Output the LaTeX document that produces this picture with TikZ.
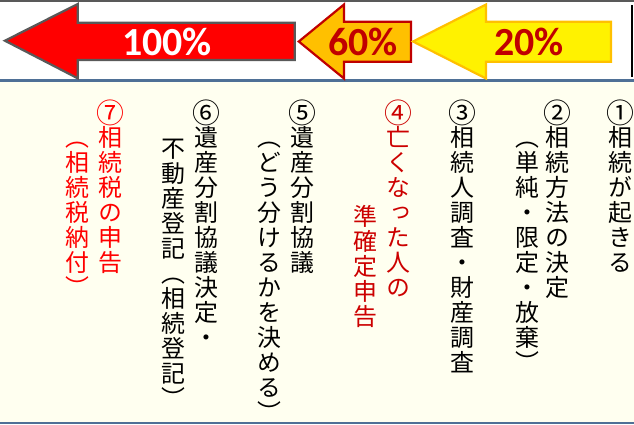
\documentclass[tikz,border=0pt]{standalone}
\usepackage{fontspec}
\newfontfamily\jp[RawFeature=+vert]{Noto Sans CJK JP}
\newfontfamily\lat{Carlito}
\definecolor{cream}{HTML}{FFFFF0}
\definecolor{topgray}{HTML}{595959}
\definecolor{rule}{HTML}{4F7096}
\definecolor{darkred}{HTML}{C00000}
\definecolor{amber}{HTML}{FFC000}
\definecolor{redA}{HTML}{CC0000}
\definecolor{redB}{HTML}{FF0000}
\newcount\vcidx
\newcommand\vcol[5]{%
  \vcidx=0
  \def\vcname{#1}\def\vcx{#2}\def\vcy{#3}\def\vccol{#4}%
  \vcloop#5\relax}
\def\vcloop#1{%
  \ifx#1\relax\else
    \node[ch,text=\vccol] (\vcname-\the\vcidx) at ({\vcx},{\vcy+25*\the\vcidx}) {#1};%
    \advance\vcidx by 1
    \expandafter\vcloop
  \fi}
\begin{document}
\begin{tikzpicture}[x=1bp,y=-1bp,
  ch/.style={font=\jp\fontsize{24}{24}\selectfont, inner sep=0pt, outer sep=0pt,
    text height=21.12bp, text depth=2.88bp, anchor=center},
  num/.style={font=\jp\fontsize{28}{28}\selectfont, inner sep=0pt, outer sep=0pt,
    text height=24.64bp, text depth=3.36bp, anchor=center},
  pct/.style={font=\lat\bfseries\fontsize{40}{40}\selectfont, inner sep=0pt},
  blockarrow/.style={line width=2.2bp, line join=miter}]
\useasboundingbox (0,0) rectangle (634,424);
% backgrounds
\fill[white] (0,0) rectangle (634,81);
\fill[cream] (0,81) rectangle (634,424);
\draw[topgray, line width=1.6bp] (0,0.8) -- (634,0.8);
\draw[rule, line width=2.5bp] (0,80.3) -- (634,80.3);
\draw[rule, line width=2.5bp] (0,422.8) -- (634,422.8);
\draw[black, line width=2.6bp] (632,5) -- (632,77);
% block arrows
\draw[blockarrow, fill=red, draw=topgray]
  (4.9,40.7) -- (77.7,4) -- (77.7,22.7) -- (294.7,22.7) -- (294.7,60) -- (77.7,60) -- (77.7,78.3) -- cycle;
\draw[blockarrow, fill=amber, draw=darkred]
  (298.8,41.5) -- (344,4.5) -- (344,21.7) -- (411,21.7) -- (411,61.7) -- (344,61.7) -- (344,78.5) -- cycle;
\draw[blockarrow, fill=yellow, draw=amber]
  (413,41.5) -- (486,4.5) -- (486,21.7) -- (611,21.7) -- (611,61.7) -- (486,61.7) -- (486,78.5) -- cycle;
\node[pct, text=white] (p100) at (167,42) {100\%};
\node[pct, text=darkred] (p60) at (363,42) {60\%};
\node[pct, text=darkred] (p20) at (529,42) {20\%};
% circled step numbers
\node[num] (n1) at (620,112.5) {①};
\node[num] (n2) at (557,112.5) {②};
\node[num] (n3) at (462,112.5) {③};
\node[num, text=redA] (n4) at (398,112.5) {④};
\node[num] (n5) at (302,112.5) {⑤};
\node[num] (n6) at (206,112.5) {⑥};
\node[num, text=redB] (n7) at (110,112.5) {⑦};
% vertical text columns
\vcol{c1}{620}{137.5}{black}{相続が起きる}
\vcol{c2}{557}{137.5}{black}{相続方法の決定}
\vcol{c2s}{527}{137.5}{black}{（単純・限定・放棄）}
\vcol{c3}{462}{137.5}{black}{相続人調査・財産調査}
\vcol{c4}{398}{137.5}{redA}{亡くなった人の}
\vcol{c4s}{365}{216.5}{redA}{準確定申告}
\vcol{c5}{302}{137.5}{black}{遺産分割協議}
\vcol{c5s}{269}{137.5}{black}{（どう分けるかを決める）}
\vcol{c6}{206}{137.5}{black}{遺産分割協議決定・}
\vcol{c6s}{173}{148.75}{black}{不動産登記（相続登記）}
\vcol{c7}{110}{137.5}{redB}{相続税の申告}
\vcol{c7s}{77}{137.5}{redB}{（相続税納付）}
\end{tikzpicture}
\end{document}
